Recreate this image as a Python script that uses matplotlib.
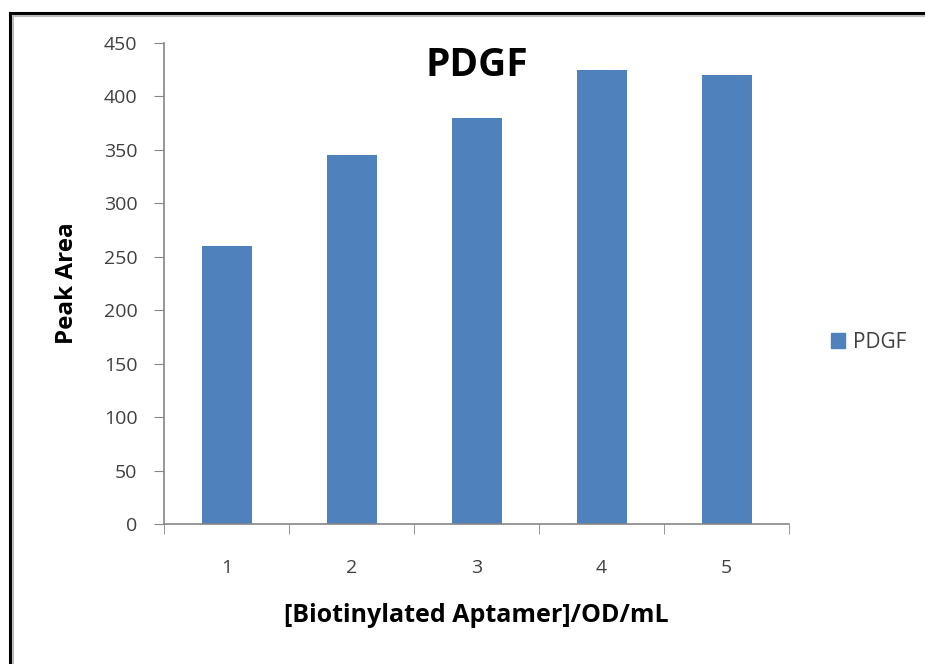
import numpy as np
import matplotlib
matplotlib.use("Agg")
import matplotlib.pyplot as plt
from matplotlib.lines import Line2D
from matplotlib.patches import Patch

plt.rcParams['font.family'] = ['Open Sans', 'DejaVu Sans']

categories = ["1", "2", "3", "4", "5"]
peak_area = [260, 345, 380, 425, 420]
series_name = "PDGF"
bar_color = "#4F81BD"
grey_txt = "#404040"
axis_col = "#868686"

fig = plt.figure(figsize=(9.25, 6.64), dpi=100)
ax = fig.add_axes([164/925, 1 - 524/664, (789-164)/925, (524-43)/664])

x = np.arange(len(categories))
ax.bar(x, peak_area, width=0.4, color=bar_color, label=series_name)

ax.set_xlim(-0.5, len(categories) - 0.5)
ax.set_ylim(0, 450)
ax.set_yticks(np.arange(0, 451, 50))
ax.set_xticks(x)
ax.set_xticklabels(categories)
ax.set_xticks(np.arange(-0.5, len(categories), 1), minor=True)

for s in ["top", "right"]:
    ax.spines[s].set_visible(False)
for s in ["left", "bottom"]:
    ax.spines[s].set_color(axis_col)
    ax.spines[s].set_linewidth(1.2)

ax.tick_params(axis="y", length=7, color=axis_col, labelsize=14, labelcolor=grey_txt, pad=12)
ax.tick_params(axis="x", which="major", length=0, labelsize=14, labelcolor=grey_txt, pad=25)
ax.tick_params(axis="x", which="minor", length=7, color=axis_col)

ax.set_ylabel("Peak Area", fontsize=17.5, fontweight="bold", color="black", labelpad=18)
ax.set_xlabel("[Biotinylated Aptamer]/OD/mL", fontsize=18, fontweight="bold", color="black", labelpad=19)
ax.set_title("PDGF", fontsize=28, fontweight="bold", y=0.915)

fig.legend(handles=[Patch(color=bar_color, label=series_name)], loc="center left",
           bbox_to_anchor=(812/925, 1 - 342/664), frameon=False, fontsize=15,
           handlelength=0.7, handleheight=0.7, handletextpad=0.35, labelcolor=grey_txt)

# outer frame (top and left only, with a soft grey shadow line)
fig.add_artist(Line2D([10/925, 1], [1 - 13/664, 1 - 13/664], color="black", lw=2.2))
fig.add_artist(Line2D([10/925, 10/925], [0, 1 - 13/664], color="black", lw=2.2))
fig.add_artist(Line2D([13/925, 1], [1 - 16/664, 1 - 16/664], color="#bbbbbb", lw=1.5))
fig.add_artist(Line2D([13/925, 13/925], [0, 1 - 16/664], color="#bbbbbb", lw=1.5))

fig.savefig("out.png", dpi=100)
